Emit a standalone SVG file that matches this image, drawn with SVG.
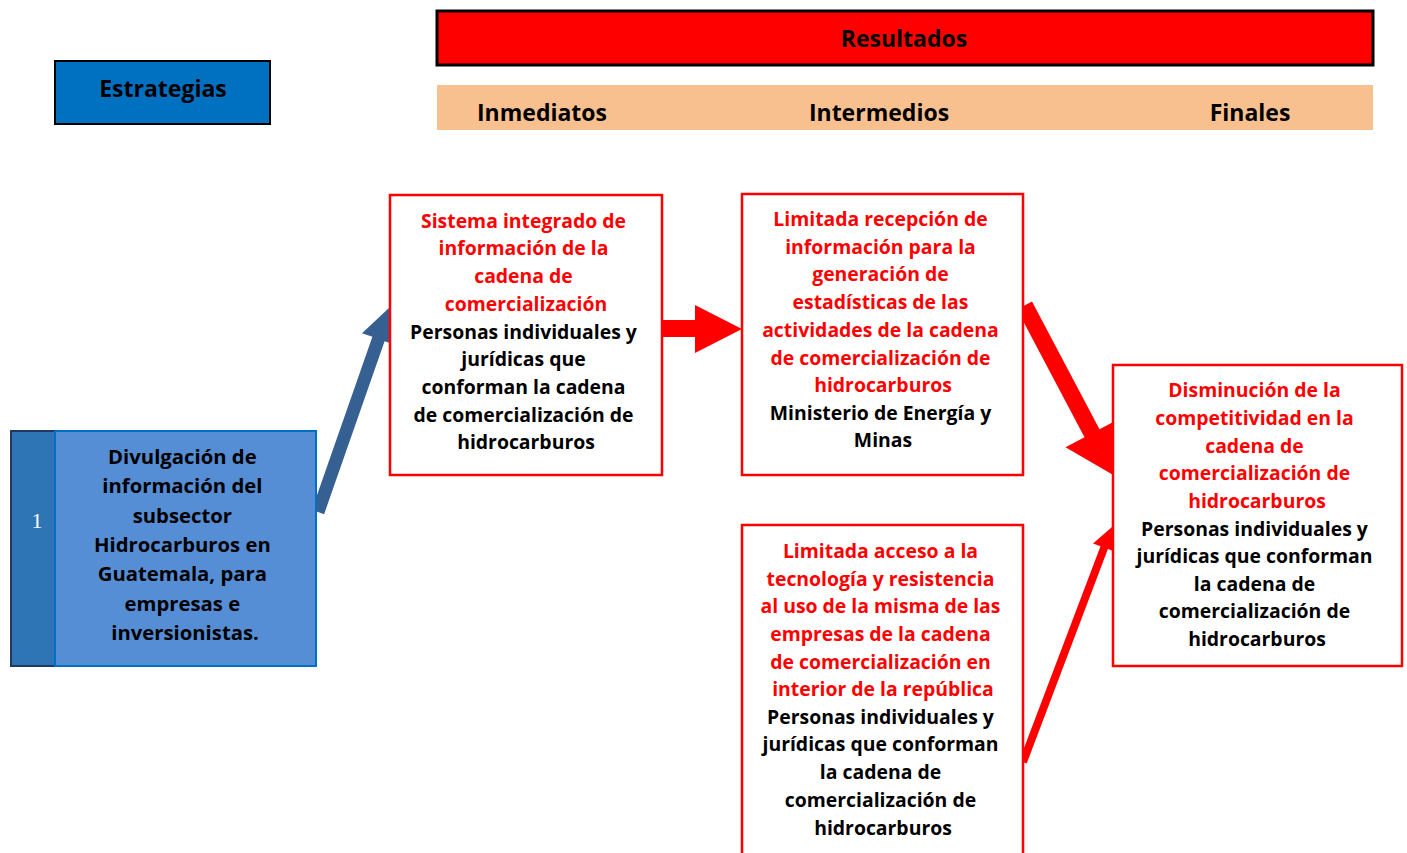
<svg xmlns="http://www.w3.org/2000/svg" width="1407" height="853" viewBox="0 0 1407 853">
<style>
.t{font-family:"Open Sans",Lato,sans-serif;font-weight:bold;text-anchor:middle;}
.h{font-size:23px;fill:#000;}
.r{font-size:19.4px;fill:#FF0000;}
.k{font-size:19.4px;fill:#000;}
.s{font-size:20.3px;fill:#000;}
.box{fill:#fff;stroke:#FF0000;stroke-width:2.5;}
</style>
<rect width="1407" height="853" fill="#fff"/>
<g id="connectors">
<polygon fill="#376092" points="311.9,509.8 372.4,336.8 362,333.2 390,307 395,344.8 384.6,341.2 324.1,514.2"/>
<polygon fill="#FF0000" points="662,320 695,320 695,305 742,329 695,353 695,337 662,337"/>
<polygon fill="#FF0000" points="1032,301.5 1099.5,429.2 1118.5,419.2 1115,476 1065.5,447.2 1084.5,437.2 1017,309.5"/>
<polygon fill="#FF0000" points="1019.3,760.6 1100.5,546.2 1093,543.4 1112,527 1115.4,551.8 1107.9,549 1026.7,763.4"/>
</g>
<g id="header-resultados">
<rect x="437" y="11" width="936" height="54" fill="#FF0000" stroke="#000" stroke-width="3"/>
<text class="t h" x="904" y="47">Resultados</text>
</g>
<g id="header-niveles">
<rect x="437" y="85" width="936" height="45" fill="#F9C08F"/>
<text class="t h" x="542" y="121">Inmediatos</text>
<text class="t h" x="879" y="121">Intermedios</text>
<text class="t h" x="1250" y="121">Finales</text>
</g>
<g id="header-estrategias">
<rect x="55" y="61" width="215" height="63" fill="#0070C0" stroke="#000" stroke-width="2"/>
<text class="t h" x="163" y="97">Estrategias</text>
</g>
<g id="estrategia-1">
<rect x="11" y="431" width="44" height="235" fill="#2E75B6" stroke="#1F3864" stroke-width="2"/>
<text x="37" y="528" font-family="Liberation Serif,serif" font-size="22" fill="#fff" text-anchor="middle">1</text>
<rect x="55" y="431" width="261" height="235" fill="#558ED5" stroke="#0070C0" stroke-width="2"/>
<text class="t s">
<tspan x="185" y="464">Divulgación de</tspan>
<tspan x="185" y="493">información del</tspan>
<tspan x="185" y="523">subsector</tspan>
<tspan x="185" y="552">Hidrocarburos en</tspan>
<tspan x="185" y="581">Guatemala, para</tspan>
<tspan x="185" y="611">empresas e</tspan>
<tspan x="185" y="640">inversionistas.</tspan>
</text>
</g>
<g id="inmediato-1">
<rect class="box" x="390" y="195" width="272" height="280"/>
<text class="t r">
<tspan x="526" y="228">Sistema integrado de</tspan>
<tspan x="526" y="255">información de la</tspan>
<tspan x="526" y="283">cadena de</tspan>
<tspan x="526" y="311">comercialización</tspan>
</text>
<text class="t k">
<tspan x="526" y="339">Personas individuales y</tspan>
<tspan x="526" y="366">jurídicas que</tspan>
<tspan x="526" y="394">conforman la cadena</tspan>
<tspan x="526" y="422">de comercialización de</tspan>
<tspan x="526" y="449">hidrocarburos</tspan>
</text>
</g>
<g id="intermedio-1">
<rect class="box" x="742" y="194" width="281" height="281"/>
<text class="t r">
<tspan x="883" y="226">Limitada recepción de</tspan>
<tspan x="883" y="254">información para la</tspan>
<tspan x="883" y="281">generación de</tspan>
<tspan x="883" y="309">estadísticas de las</tspan>
<tspan x="883" y="337">actividades de la cadena</tspan>
<tspan x="883" y="365">de comercialización de</tspan>
<tspan x="883" y="392">hidrocarburos</tspan>
</text>
<text class="t k">
<tspan x="883" y="420">Ministerio de Energía y</tspan>
<tspan x="883" y="447">Minas</tspan>
</text>
</g>
<g id="intermedio-2">
<rect class="box" x="742" y="525" width="281" height="350"/>
<text class="t r">
<tspan x="883" y="558">Limitada acceso a la</tspan>
<tspan x="883" y="586">tecnología y resistencia</tspan>
<tspan x="883" y="613">al uso de la misma de las</tspan>
<tspan x="883" y="641">empresas de la cadena</tspan>
<tspan x="883" y="669">de comercialización en</tspan>
<tspan x="883" y="696">interior de la república</tspan>
</text>
<text class="t k">
<tspan x="883" y="724">Personas individuales y</tspan>
<tspan x="883" y="751">jurídicas que conforman</tspan>
<tspan x="883" y="779">la cadena de</tspan>
<tspan x="883" y="807">comercialización de</tspan>
<tspan x="883" y="835">hidrocarburos</tspan>
</text>
</g>
<g id="final-1">
<rect class="box" x="1113" y="365" width="289" height="301"/>
<text class="t r">
<tspan x="1257" y="397">Disminución de la</tspan>
<tspan x="1257" y="425">competitividad en la</tspan>
<tspan x="1257" y="453">cadena de</tspan>
<tspan x="1257" y="480">comercialización de</tspan>
<tspan x="1257" y="508">hidrocarburos</tspan>
</text>
<text class="t k">
<tspan x="1257" y="536">Personas individuales y</tspan>
<tspan x="1257" y="563">jurídicas que conforman</tspan>
<tspan x="1257" y="591">la cadena de</tspan>
<tspan x="1257" y="618">comercialización de</tspan>
<tspan x="1257" y="646">hidrocarburos</tspan>
</text>
</g>
</svg>
